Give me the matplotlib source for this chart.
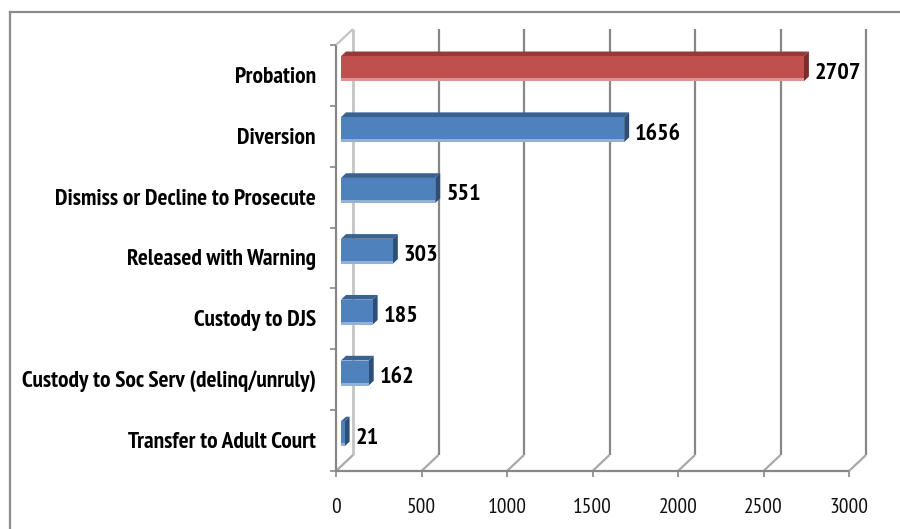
import matplotlib
matplotlib.use("Agg")
import matplotlib.pyplot as plt
from matplotlib.patches import Polygon
from matplotlib.lines import Line2D

categories = [
    "Probation",
    "Diversion",
    "Dismiss or Decline to Prosecute",
    "Released with Warning",
    "Custody to DJS",
    "Custody to Soc Serv (delinq/unruly)",
    "Transfer to Adult Court",
]
values = [2707, 1656, 551, 303, 185, 162, 21]
highlight = "Probation"
xticks = [0, 500, 1000, 1500, 2000, 2500, 3000]

FONT = ["PT Sans Narrow", "DejaVu Sans"]
GRID = "#878787"
GRID_LIGHT = "#c4c4c4"
GRID_DIAG = "#a8a8a8"

W, H = 900, 529
fig = plt.figure(figsize=(W / 100, H / 100), dpi=100)
fig.patch.set_facecolor("white")

# plot area (front plane of the 3D box), in pixels
L, R, T, B = 336, 849, 45, 471
ax = fig.add_axes([L / W, 1 - B / H, (R - L) / W, (B - T) / H])
ax.set_xlim(0, 3000)
ax.set_ylim(len(categories) - 0.5, -0.5)
ax.axis("off")

sx = 3000 / (R - L)              # data units per pixel, x
sy = len(categories) / (B - T)   # data units per pixel, y (down)
SLOPE = 16 / 17                  # depth direction: right and up


def P(x, y, d):
    """Point (x, y) of the front plane pushed d pixels into depth."""
    return (x + d * sx, y - d * SLOPE * sy)


def seg(p, q, **kw):
    ax.add_line(Line2D([p[0], q[0]], [p[1], q[1]], clip_on=False,
                       solid_capstyle="butt", **kw))


WALL = 17
ytop, ybot = -0.5, len(categories) - 0.5

# back wall gridlines and floor diagonals
for v in xticks:
    col = GRID_LIGHT if v == 0 else GRID
    lw = 2.0 if v == 0 else 1.6
    seg(P(v, ytop, WALL), P(v, ybot, WALL), color=col, lw=lw, zorder=1)
    seg(P(v, ybot, 0), P(v, ybot, WALL), color=GRID_DIAG, lw=1.6, zorder=1)
    # tick on the floor edge
    seg((v, ybot), (v, ybot + 6 * sy), color=GRID, lw=1.2, zorder=2)
    ax.text(v, ybot + 42 * sy, f"{v}", ha="center", va="baseline",
            fontsize=15.5, family=FONT, color="#111111")

# front floor edge, left axis, top-left diagonal
seg((0, ybot), (3000, ybot), color=GRID, lw=1.6, zorder=2)
seg((0, ytop), (0, ybot), color=GRID, lw=1.6, zorder=2)
seg(P(0, ytop, 0), P(0, ytop, WALL), color=GRID_LIGHT, lw=1.6, zorder=2)
for k in range(len(categories) + 1):
    y = k - 0.5
    seg((0, y), (-6 * sx, y), color=GRID, lw=1.2, zorder=2)

# bars
D1, D2 = 5, 10
BAR_H = 25 * sy
for i, (cat, v) in enumerate(zip(categories, values)):
    if cat == highlight:
        front, top, side, low = "#c0504d", "#953a38", "#7a2d2b", "#d99694"
    else:
        front, top, side, low = "#4f81bd", "#3a6291", "#2c4e78", "#93b1d8"
    c = i - 2 * sy
    y0, y1 = c - BAR_H / 2, c + BAR_H / 2
    ax.add_patch(Polygon([P(0, y0, D1), P(v, y0, D1), P(v, y0, D2), P(0, y0, D2)],
                         closed=True, fc=top, ec="none", zorder=3, clip_on=False))
    ax.add_patch(Polygon([P(v, y0, D1), P(v, y0, D2), P(v, y1, D2), P(v, y1, D1)],
                         closed=True, fc=side, ec="none", zorder=3, clip_on=False))
    ax.add_patch(Polygon([P(0, y0, D1), P(v, y0, D1), P(v, y1, D1), P(0, y1, D1)],
                         closed=True, fc=front, ec="none", zorder=4, clip_on=False))
    ax.add_patch(Polygon([P(0, y1 - 3 * sy, D1), P(v, y1 - 3 * sy, D1),
                          P(v, y1, D1), P(0, y1, D1)],
                         closed=True, fc=low, ec="none", zorder=4, clip_on=False))
    lx, ly = P(v, c, D1)
    ax.text(lx + 11 * sx, ly + 10 * sy, f"{v}", ha="left", va="baseline",
            fontsize=17.5, fontweight="bold", family=FONT, color="black", zorder=5)
    ax.text(-20 * sx, i + 7.5 * sy, cat, ha="right", va="baseline",
            fontsize=16.8, fontweight="bold", family=FONT, color="black")

# chart-area frame
fx, fy = 9.5 / W, 1 - 11.5 / H
fig.add_artist(Line2D([fx, fx], [0, fy], color="#8c8c8c", lw=1.6,
                      transform=fig.transFigure))
fig.add_artist(Line2D([fx, 1], [fy, fy], color="#8c8c8c", lw=1.6,
                      transform=fig.transFigure))

fig.savefig("out.png", dpi=100)
